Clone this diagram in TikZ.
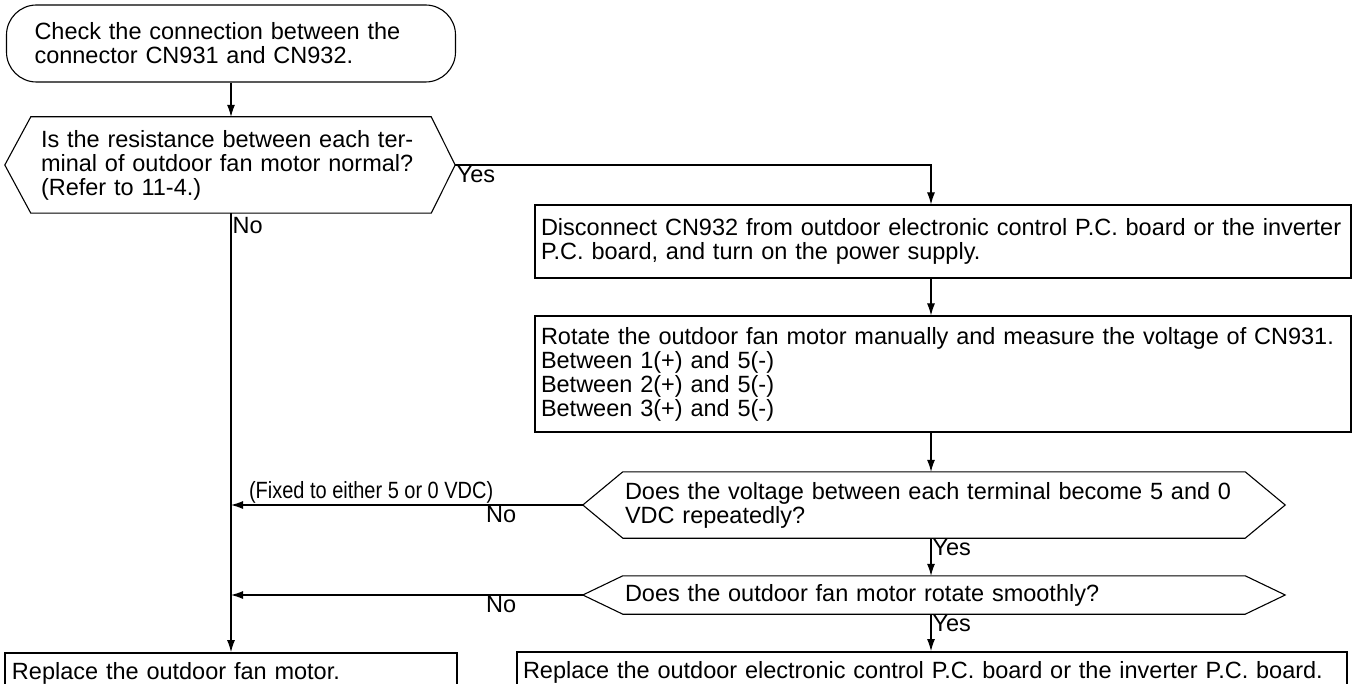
\documentclass[tikz,border=0pt]{standalone}
\usepackage{fontspec}
\setmainfont{Liberation Sans}
\usepackage{graphicx}
\usepackage{tikz}
\usetikzlibrary{positioning,arrows.meta,calc}
\newcommand{\flowfont}{\fontsize{23.5}{24}\selectfont}
\tikzset{
  >={Latex[length=12pt,width=8pt]},
  flow/.style={->,line width=1.1pt},
  procbox/.style={draw,line width=1.1pt,align=left,inner xsep=2pt,inner ysep=0pt,
    font=\flowfont},
  termbox/.style={procbox,rounded corners=30pt},
  endbox/.style={procbox,line width=1.8pt},
  decbox/.style={align=left,inner xsep=2pt,inner ysep=0pt,font=\flowfont},
  hexline/.style={line width=1.1pt,line join=miter},
  flowlbl/.style={font=\flowfont,inner sep=1pt},
}
\newcommand{\hexframe}[3]{%
  \draw[hexline] ([xshift=-#2pt]#1.west) coordinate (#1-tipL) -- (#1.north west)
    -- (#1.north east) -- ([xshift=#3pt]#1.east) coordinate (#1-tipR)
    -- (#1.south east) -- (#1.south west) -- cycle;}

\begin{document}
\begin{tikzpicture}[x=1pt,y=-1pt]
  \useasboundingbox (0,0) rectangle (1356,684);
  \clip (0,0) rectangle (1356,684);
  \coordinate (col) at (931,0);

  \node[termbox,text width=393pt,minimum width=449pt,minimum height=77pt] (start) at (231,43.5)
    {Check the connection between the\\connector CN931 and CN932.};
  \node[decbox,text width=380pt,minimum width=400pt,minimum height=96pt] (d1) at (231,165)
    {Is the resistance between each ter-\\minal of outdoor fan motor normal?\\(Refer to 11-4.)};
  \node[procbox,text width=804pt,minimum width=816pt,minimum height=73pt] (disc) at (943,241.5)
    {\mbox{Disconnect CN932 from outdoor electronic control P.C. board or the inverter}\\
     P.C. board, and turn on the power supply.};
  \node[procbox,text width=804pt,minimum width=816pt,minimum height=116pt] (rot) at (943,374)
    {\mbox{Rotate the outdoor fan motor manually and measure the voltage of CN931.}\\
     Between 1(+) and 5(-)\\Between 2(+) and 5(-)\\Between 3(+) and 5(-)};
  \node[decbox,text width=618pt,minimum width=622pt,minimum height=66pt] (d2) at (934,505)
    {Does the voltage between each terminal become 5 and 0\\VDC repeatedly?};
  \node[decbox,text width=618pt,minimum width=622pt,minimum height=38pt] (d3) at (934,595)
    {Does the outdoor fan motor rotate smoothly?};
  \node[endbox,text width=438pt,minimum width=452pt,minimum height=40pt] (fanrep) at (231,673)
    {Replace the outdoor fan motor.};
  \node[endbox,text width=818pt,minimum width=830pt,minimum height=41pt] (pcbrep) at (932,672.5)
    {\mbox{Replace the outdoor electronic control P.C. board or the inverter P.C. board.}};

  \hexframe{d1}{26}{24}
  \hexframe{d2}{40}{40}
  \hexframe{d3}{40}{40}

  \draw[flow] (start.south) -- (start.south |- d1.north);
  \draw[flow] (d1-tipR) node[flowlbl,anchor=north west] {Yes} -| (disc.north -| col);
  \draw[flow] (d1.south) node[flowlbl,anchor=north west,yshift=-3pt] {No} -- (fanrep.north);
  \draw[flow] (disc.south -| col) -- (rot.north -| col);
  \draw[flow] (rot.south -| col) -- (d2.north -| col);
  \draw[flow] (d2.south -| col) node[flowlbl,anchor=north west] {Yes} -- (d3.north -| col);
  \draw[flow] (d3.south -| col) node[flowlbl,anchor=north west] {Yes} -- (pcbrep.north -| col);
  \draw[flow] (d2-tipL)
    node[flowlbl,anchor=north east,xshift=-65pt] {No}
    node[flowlbl,anchor=south east,xshift=-88pt] {\scalebox{0.85}[1]{(Fixed to either 5 or 0 VDC)}}
    -- (d2-tipL -| fanrep.north);
  \draw[flow] (d3-tipL)
    node[flowlbl,anchor=north east,xshift=-65pt] {No}
    -- (d3-tipL -| fanrep.north);
\end{tikzpicture}
\end{document}
